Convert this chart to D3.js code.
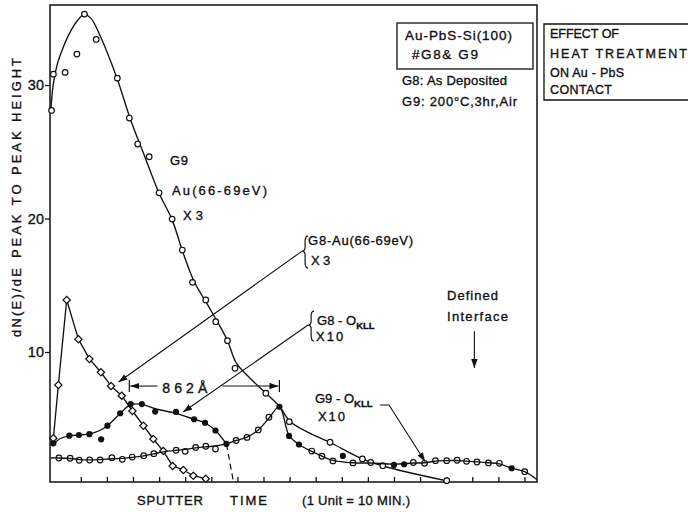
<!DOCTYPE html>
<html>
<head>
<meta charset="utf-8">
<script src="https://cdn.jsdelivr.net/npm/d3@7"></script>
<style>
body { margin: 0; background: #fff; }
svg text { font-family: "Liberation Sans", Arial, sans-serif; fill: #111; stroke: #111; stroke-width: 0.35px; }
</style>
</head>
<body>
<div id="chart"></div>
<script>
// sputter time in units (1 unit = 10 min), signal = dN(E)/dE peak to peak height
var xTicks = d3.range(1, 19);
var yTicks = [10, 20, 30];

// G9 Au(66-69eV) x3 - open circles, plus the drawn fit curve
var g9AuPoints = [
    [-0.12, 28.1], [-0.05, 30.82], [0.40, 30.95], [0.85, 32.32], [1.14, 35.32],
    [1.59, 33.42], [2.40, 30.52], [2.86, 27.53], [3.18, 25.58], [3.62, 24.63],
    [4.00, 21.93], [4.50, 19.96], [4.89, 17.64], [5.28, 15.22], [5.79, 13.90],
    [6.17, 12.27], [6.62, 10.85], [6.91, 8.78], [8.09, 6.91], [8.99, 4.78],
    [10.55, 3.24], [11.79, 1.99], [12.57, 1.48], [15.02, 0.36]
];
var g9AuCurve = [
    [-0.15, 28.0], [-0.06, 30.0], [0.09, 31.5], [0.32, 32.8], [0.59, 33.97],
    [0.86, 34.8], [1.13, 35.3], [1.39, 35.0], [1.74, 33.7], [2.39, 30.5],
    [2.89, 27.5], [3.46, 24.6], [4.0, 21.9], [4.5, 19.9], [4.89, 17.6],
    [5.34, 15.3], [5.84, 13.6], [6.34, 11.9], [6.62, 10.85], [6.95, 9.2],
    [7.4, 8.2], [8.1, 6.9], [8.6, 5.95], [9.02, 4.8], [9.79, 3.9],
    [10.55, 3.22], [11.78, 2.0], [12.58, 1.46], [15.03, 0.34]
];

// G8 Au(66-69eV) x3 - open diamonds
var g8AuPoints = [
    [-0.05, 3.54], [0.14, 7.53], [0.46, 13.90], [0.91, 10.95], [1.33, 9.48],
    [1.77, 8.48], [2.16, 7.45], [2.57, 6.73], [2.98, 5.58], [3.40, 4.48],
    [3.78, 3.48], [4.16, 2.58], [4.52, 1.46], [4.93, 1.16], [5.31, 0.73],
    [5.79, 0.51]
];

// G8 O(KLL) x10 - filled circles
var g8OPoints = [
    [-0.05, 3.16], [0.56, 3.73], [0.93, 3.78], [1.33, 3.84], [1.78, 3.46],
    [2.02, 4.48], [2.51, 5.41], [2.91, 6.10], [3.34, 6.10], [3.85, 5.54],
    [4.65, 5.51], [5.34, 4.96], [5.76, 4.70], [6.16, 4.12], [6.58, 3.11],
    [8.61, 5.90], [8.98, 3.71], [9.36, 3.07], [11.04, 2.21], [13.0, 1.54],
    [13.39, 1.59], [17.51, 1.29]
];
var g8OCurve = [
    [-0.12, 2.95], [0.2, 3.5], [0.56, 3.72], [0.93, 3.78], [1.33, 3.86],
    [1.7, 4.1], [2.02, 4.48], [2.51, 5.4], [2.91, 6.05], [3.34, 6.08],
    [3.85, 5.75], [4.65, 5.4], [5.34, 4.96], [5.76, 4.68], [6.16, 4.12],
    [6.58, 3.11]
];

// G9 O(KLL) x10 - crossed circles
var g9OPoints = [
    [0.16, 2.06], [0.59, 2.04], [0.94, 1.89], [1.34, 1.91], [1.74, 1.91],
    [2.19, 2.08], [2.59, 1.96], [2.97, 2.13], [3.41, 2.23], [3.80, 2.38],
    [4.65, 2.64], [5.0, 2.56], [5.40, 2.85], [5.79, 2.94], [6.16, 2.73],
    [6.95, 3.37], [7.37, 3.60], [7.80, 4.16], [8.21, 5.11], [9.85, 2.58],
    [10.24, 2.19], [10.66, 1.84], [11.43, 1.69], [12.11, 1.72], [13.74, 1.72],
    [14.17, 1.66], [14.59, 1.86], [15.02, 1.86], [15.42, 1.89], [15.78, 1.81],
    [16.18, 1.76], [16.62, 1.69], [17.04, 1.66], [18.01, 1.03]
];
var g9OCurve = [
    [-0.15, 2.06], [0.16, 2.06], [0.59, 2.02], [0.94, 1.94], [1.34, 1.92],
    [1.74, 1.94], [2.19, 2.0], [2.59, 2.03], [2.97, 2.1], [3.41, 2.22],
    [3.80, 2.37], [4.15, 2.52], [4.65, 2.64], [5.0, 2.7], [5.40, 2.82],
    [5.79, 2.9], [6.16, 2.96], [6.58, 3.11], [6.95, 3.37], [7.37, 3.62],
    [7.80, 4.16], [8.21, 5.05], [8.61, 5.9], [8.98, 3.75], [9.36, 3.07],
    [9.85, 2.55], [10.24, 2.2], [10.66, 1.88], [11.43, 1.7], [12.11, 1.68],
    [13.0, 1.6], [13.74, 1.68], [14.17, 1.7], [14.59, 1.82], [15.02, 1.86],
    [15.42, 1.87], [15.78, 1.82], [16.18, 1.77], [16.62, 1.7], [17.04, 1.62],
    [17.51, 1.3], [18.01, 1.03], [18.47, 0.45]
];

// annotations (data units)
var interfaceDrop = [[6.58, 3.11], [6.85, 0.26]];
var separation = [2.86, 8.61];
var separationLevel = 7.45;
var arrowG8Au = [[9.48, 17.56], [2.45, 7.75]];
var arrowG8O = [[9.71, 12.02], [4.92, 5.5]];
var arrowG9O = [[12.47, 6.03], [12.81, 6.03], [14.19, 1.8]];
var arrowInterface = [[16.08, 11.55], [16.08, 8.8]];

var width = 688, height = 512;
var ink = "#111";

var svg = d3.select("#chart").append("svg")
        .attr("width", width)
        .attr("height", height);

svg.append("defs").append("marker")
        .attr("id", "head")
        .attr("viewBox", "0 -4 9 8")
        .attr("refX", 9)
        .attr("refY", 0)
        .attr("markerUnits", "userSpaceOnUse")
        .attr("markerWidth", 9)
        .attr("markerHeight", 8)
        .attr("orient", "auto")
        .append("path")
        .attr("d", "M0,-3.2L9,0L0,3.2Z")
        .attr("fill", ink);

var x = d3.scaleLinear().domain([-0.18, 18.48]).range([50, 537]);
var y = d3.scaleLinear().domain([0.26, 36.0]).range([482, 5]);

// frame
svg.append("rect")
        .attr("x", x.range()[0]).attr("y", y.range()[1])
        .attr("width", x.range()[1] - x.range()[0])
        .attr("height", y.range()[0] - y.range()[1])
        .attr("fill", "none").attr("stroke", ink).attr("stroke-width", 1.5);

var xAxis = svg.append("g")
        .attr("transform", "translate(0," + y.range()[0] + ")")
        .call(d3.axisBottom(x).tickValues(xTicks).tickSize(-5).tickFormat(""));
var yAxis = svg.append("g")
        .attr("transform", "translate(" + x.range()[0] + ",0)")
        .call(d3.axisLeft(y).tickValues(yTicks).tickSize(5).tickPadding(1));
xAxis.select(".domain").remove();
yAxis.select(".domain").remove();
svg.selectAll(".tick line").attr("stroke", ink).attr("stroke-width", 1.3);
yAxis.selectAll(".tick text")
        .attr("font-size", 14.5).attr("fill", ink)
        .style("font-family", "'Liberation Sans', Arial, sans-serif");

// curves
var smooth = d3.line()
        .x(function (d) { return x(d[0]); })
        .y(function (d) { return y(d[1]); })
        .curve(d3.curveCatmullRom.alpha(0.5));
var straight = d3.line()
        .x(function (d) { return x(d[0]); })
        .y(function (d) { return y(d[1]); });

function curve(data, gen) {
    return svg.append("path")
            .attr("d", gen(data))
            .attr("fill", "none")
            .attr("stroke", ink)
            .attr("stroke-width", 1.35);
}
curve(g9AuCurve, smooth);
curve(g8AuPoints, straight);
curve(g8OCurve, smooth);

svg.append("path")
        .attr("d", straight(interfaceDrop))
        .attr("stroke", ink).attr("stroke-width", 1.2)
        .attr("stroke-dasharray", "6,4");

// markers
svg.selectAll(null).data(g9AuPoints).enter().append("circle")
        .attr("cx", function (d) { return x(d[0]); })
        .attr("cy", function (d) { return y(d[1]); })
        .attr("r", 2.8)
        .attr("fill", "#fff").attr("stroke", ink).attr("stroke-width", 1.2);

svg.selectAll(null).data(g8AuPoints).enter().append("path")
        .attr("d", d3.symbol(d3.symbolSquare, 26))
        .attr("transform", function (d) {
            return "translate(" + x(d[0]) + "," + y(d[1]) + ") rotate(45)";
        })
        .attr("fill", "#fff").attr("stroke", ink).attr("stroke-width", 1.25);

svg.selectAll(null).data(g9OPoints).enter().append("circle")
        .attr("cx", function (d) { return x(d[0]); })
        .attr("cy", function (d) { return y(d[1]); })
        .attr("r", 2.8)
        .attr("fill", "#fff").attr("stroke", ink).attr("stroke-width", 1.2);

// the G9 oxygen line runs through its own circles
curve(g9OCurve, smooth);

svg.selectAll(null).data(g8OPoints).enter().append("circle")
        .attr("cx", function (d) { return x(d[0]); })
        .attr("cy", function (d) { return y(d[1]); })
        .attr("r", 3.1)
        .attr("fill", ink);

// arrows
function arrow(pts) {
    svg.append("path")
            .attr("d", straight(pts))
            .attr("fill", "none")
            .attr("stroke", ink).attr("stroke-width", 1.1)
            .attr("marker-end", "url(#head)");
}
arrow(arrowG8Au);
arrow(arrowG8O);
arrow(arrowG9O);
arrow(arrowInterface);

// 862 A dimension
var sx0 = x(separation[0]), sx1 = x(separation[1]), sy = y(separationLevel);
svg.append("path")
        .attr("d", "M" + sx0 + "," + (sy - 6) + "V" + (sy + 6) + "M" + sx1 + "," + (sy - 6) + "V" + (sy + 6))
        .attr("stroke", ink).attr("stroke-width", 1.2);
svg.append("path").attr("d", "M" + (sx0 + 28) + "," + sy + "H" + (sx0 + 1))
        .attr("stroke", ink).attr("stroke-width", 1.1).attr("marker-end", "url(#head)");
svg.append("path").attr("d", "M" + (sx0 + 93) + "," + sy + "H" + (sx1 - 1))
        .attr("stroke", ink).attr("stroke-width", 1.1).attr("marker-end", "url(#head)");

// braces
function brace(xt, yt, y0, y1) {
    var w = 6, xm = xt + w / 2;
    return "M" + (xt + w) + "," + y0 +
            "Q" + xm + "," + y0 + " " + xm + "," + (y0 + 5) +
            "L" + xm + "," + (yt - 4) +
            "Q" + xm + "," + yt + " " + xt + "," + yt +
            "Q" + xm + "," + yt + " " + xm + "," + (yt + 4) +
            "L" + xm + "," + (y1 - 5) +
            "Q" + xm + "," + y1 + " " + (xt + w) + "," + y1;
}
var b1x = x(arrowG8Au[0][0]), b1y = y(arrowG8Au[0][1]);
svg.append("path").attr("d", brace(b1x, b1y, b1y - 15, b1y + 17))
        .attr("fill", "none").attr("stroke", ink).attr("stroke-width", 1.2);
var b2x = x(arrowG8O[0][0]), b2y = y(arrowG8O[0][1]);
svg.append("path").attr("d", brace(b2x, b2y, b2y - 14, b2y + 16))
        .attr("fill", "none").attr("stroke", ink).attr("stroke-width", 1.2);

// text
function label(txt, px, py, len, size, rot) {
    var t = svg.append("text")
            .attr("x", px).attr("y", py)
            .attr("font-size", size || 13)
            .text(txt);
    if (len) t.attr("textLength", len).attr("lengthAdjust", "spacing");
    if (rot) t.attr("transform", "rotate(-90," + px + "," + py + ")");
    return t;
}
function oKll(prefix, px, py) {
    var t = svg.append("text").attr("x", px).attr("y", py).attr("font-size", 13);
    t.append("tspan").text(prefix);
    t.append("tspan").attr("font-size", 9.5).attr("font-weight", "bold").attr("dy", 4).text("KLL");
    return t;
}

label("dN(E)/dE", 21, 337, 69, 13, true);
label("PEAK TO PEAK HEIGHT", 21, 258, 200, 13, true);

label("SPUTTER", 137, 505, 66);
label("TIME", 230, 505, 37);
label("(1 Unit = 10 MIN.)", 302, 505, 108);

label("G9", 170, 165, 18);
label("Au(66-69eV)", 172, 195, 95);
label("X3", 183, 220, 20);

label("G8-Au(66-69eV)", b1x + 6, b1y - 6, 105);
label("X3", b1x + 9, b1y + 14, 19);

oKll("G8 - O", b2x + 9, b2y);
label("X10", b2x + 8, b2y + 16, 27);

oKll("G9 - O", 315, 403);
label("X10", 318, 421, 27);

label("862Å", sx0 + 33, sy + 7, 45, 14);

label("Defined", 447, 300, 51);
label("Interface", 447, 321, 61);

// sample boxes
svg.append("rect").attr("x", 397).attr("y", 23).attr("width", 136).attr("height", 46)
        .attr("fill", "none").attr("stroke", ink).attr("stroke-width", 1.3);
label("Au-PbS-Si(100)", 405, 40, 107, 13.5);
label("#G8& G9", 412, 59, 66, 13.5);
label("G8: As Deposited", 402, 85, 105, 13);
label("G9: 200°C,3hr,Air", 402, 106, 115, 13);

svg.append("path").attr("d", "M" + (width + 2) + ",24H544V100H" + (width + 2))
        .attr("fill", "none").attr("stroke", ink).attr("stroke-width", 1.3);
label("EFFECT OF", 550, 38, 69, 12.5);
label("HEAT TREATMENT", 550, 58, 137, 12.5);
label("ON Au - PbS", 550, 77, 74, 12.5);
label("CONTACT", 550, 94, 62, 12.5);
</script>
</body>
</html>
